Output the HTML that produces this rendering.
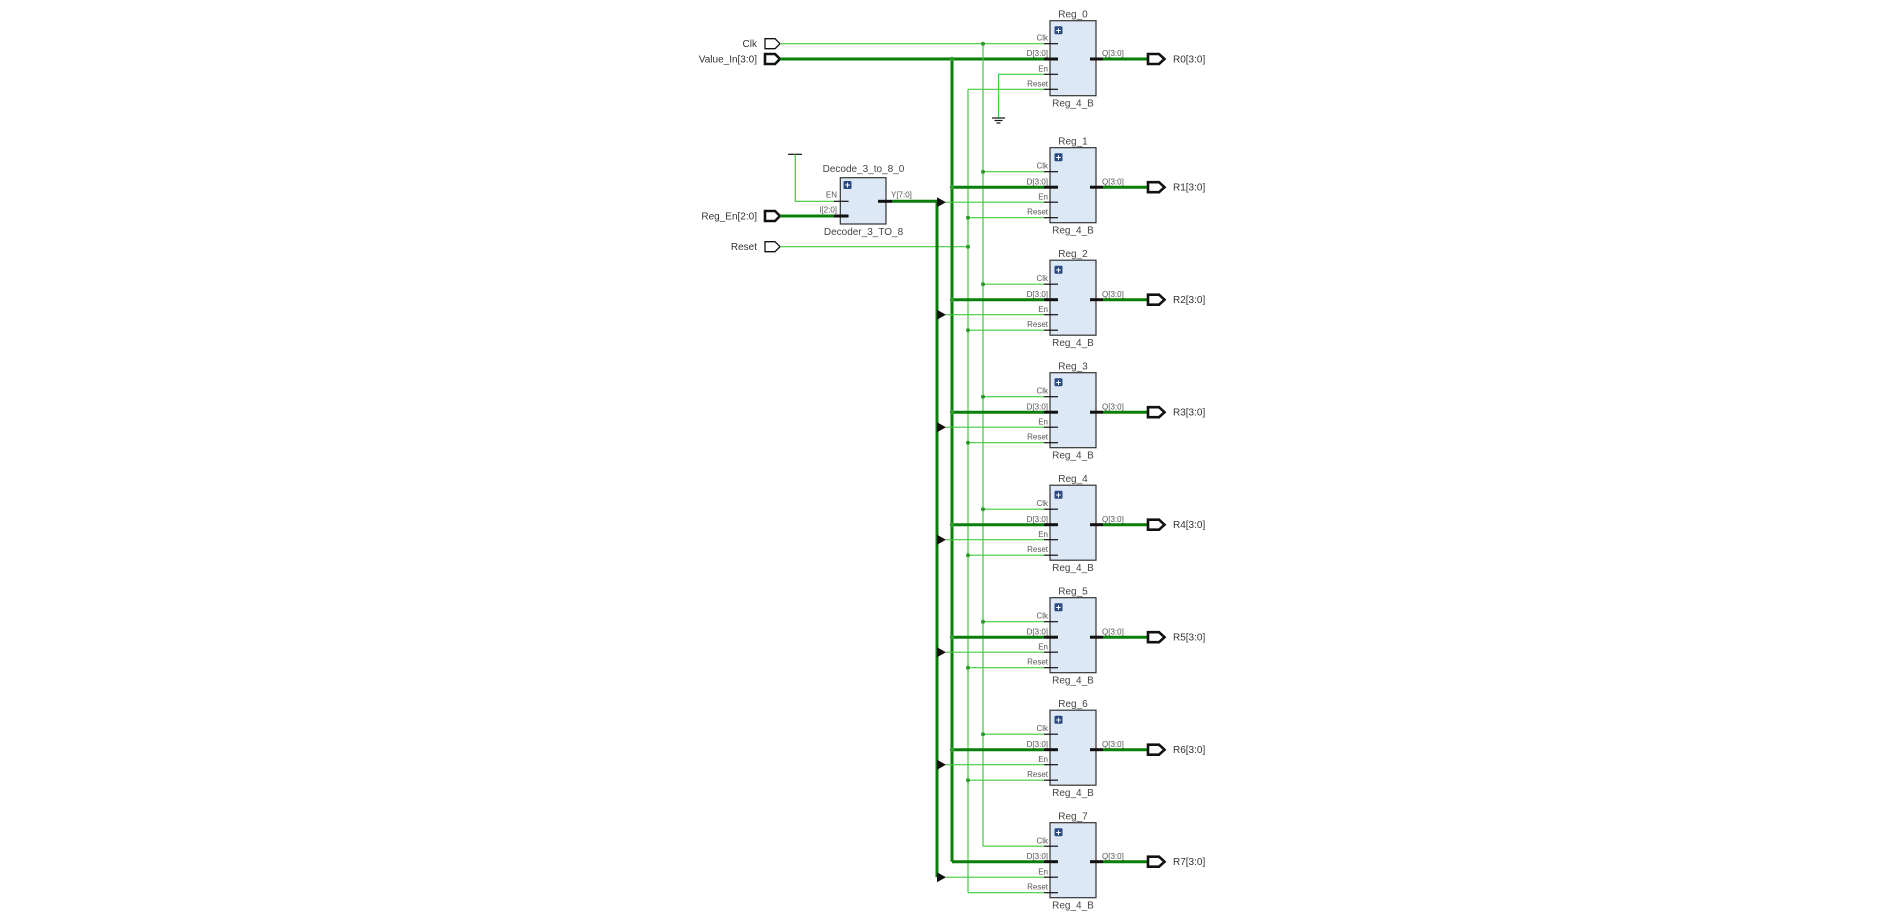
<!DOCTYPE html>
<html><head><meta charset="utf-8"><style>
html,body{margin:0;padding:0;background:#fff;}
svg{display:block;font-family:"Liberation Sans",sans-serif;}
.g{stroke:#3fcc3f;stroke-width:1.2;fill:none}
.b{stroke:#0a7d0a;stroke-width:3;fill:none}
.k{stroke:#111;stroke-width:1.2}
.kb{stroke:#111;stroke-width:3}
.box{fill:#dde8f7;stroke:#333;stroke-width:1.2}
.pl{font-size:8px;fill:#555;text-anchor:end}
.ql{font-size:8px;fill:#555}
.t{font-size:10px;fill:#444;text-anchor:middle}
.pt{font-size:10px;fill:#333}
.ptr{font-size:10px;fill:#333;text-anchor:end}
.port{fill:#fff;stroke:#111;stroke-width:1.3}
.portb{fill:#fff;stroke:#111;stroke-width:2.6}
.dot{fill:#2a9c2a}
.plus{fill:#2b4a80}
</style></head><body>
<svg width="1894" height="919" viewBox="0 0 1894 919" xmlns="http://www.w3.org/2000/svg">

<!-- input ports -->
<text class="ptr" x="757" y="47">Clk</text>
<polygon class="port" points="765,38.7 775,38.7 780,43.7 775,48.7 765,48.7"/>
<text class="ptr" x="757" y="62.5">Value_In[3:0]</text>
<polygon class="portb" points="765,54 775,54 780,59 775,64 765,64"/>
<text class="ptr" x="757" y="219.5">Reg_En[2:0]</text>
<polygon class="portb" points="765,211 775,211 780,216 775,221 765,221"/>
<text class="ptr" x="757" y="250">Reset</text>
<polygon class="port" points="765,241.7 775,241.7 780,246.7 775,251.7 765,251.7"/>

<!-- global wires -->
<line class="g" x1="780" y1="43.7" x2="1044" y2="43.7"/>
<line class="b" x1="780" y1="59" x2="1044" y2="59"/>
<line class="g" x1="780" y1="246.7" x2="968" y2="246.7"/>
<line class="b" x1="780" y1="216" x2="834" y2="216"/>
<line class="b" x1="892" y1="201.3" x2="937" y2="201.3"/>
<line class="g" x1="983" y1="43.7" x2="983" y2="846.2"/>
<line class="b" x1="952" y1="59" x2="952" y2="861.7"/>
<line class="g" x1="968" y1="89.3" x2="968" y2="892.7"/>
<line class="b" x1="937" y1="201.3" x2="937" y2="877.2"/>
<circle class="dot" cx="968" cy="246.7" r="2"/>

<!-- decoder EN tie -->
<line class="k" x1="788" y1="154.3" x2="802" y2="154.3"/>
<polyline class="g" points="795.3,154.3 795.3,201.3 834,201.3"/>

<!-- decoder -->
<text class="t" x="863.5" y="172">Decode_3_to_8_0</text>
<text class="t" x="863.5" y="235">Decoder_3_TO_8</text>
<rect class="box" x="840.3" y="177.7" width="45.7" height="46.3"/>
<rect class="plus" x="843.5" y="181" width="8" height="8" rx="1"/>
<text x="847.5" y="188.2" font-size="9" fill="#fff" text-anchor="middle" font-weight="bold">+</text>
<line class="k" x1="834" y1="201.3" x2="848.6" y2="201.3"/>
<line class="kb" x1="834" y1="216" x2="848.6" y2="216"/>
<line class="kb" x1="878" y1="201.3" x2="892" y2="201.3"/>
<text class="pl" x="837" y="197.5">EN</text>
<text class="pl" x="837" y="212.5">I[2:0]</text>
<text class="ql" x="891" y="197.5">Y[7:0]</text>

<!-- Reg_0 special -->
<polyline class="g" points="1044,74.3 998.5,74.3 998.5,118"/>
<line class="k" x1="992" y1="118" x2="1005" y2="118"/>
<line class="k" x1="994.5" y1="120.5" x2="1002.5" y2="120.5"/>
<line class="k" x1="996.5" y1="123" x2="1000.5" y2="123"/>
<line class="g" x1="968" y1="89.3" x2="1044" y2="89.3"/>
<circle class="dot" cx="983" cy="43.7" r="2"/>
<circle class="dot" cx="952" cy="59" r="2.2"/>

<!-- Reg_0 -->
<g transform="translate(0,20.7)">
<text class="t" x="1073" y="-3">Reg_0</text><text class="t" x="1073" y="86">Reg_4_B</text>
<rect class="box" x="1050" y="0" width="46" height="75"/>
<rect class="plus" x="1054.5" y="5.5" width="8" height="8" rx="1"/><text x="1058.5" y="12.7" font-size="9" fill="#fff" text-anchor="middle" font-weight="bold">+</text>
<line class="k" x1="1044" y1="23" x2="1058" y2="23"/><line class="kb" x1="1044" y1="38.3" x2="1058" y2="38.3"/><line class="k" x1="1044" y1="53.6" x2="1058" y2="53.6"/><line class="k" x1="1044" y1="68.6" x2="1058" y2="68.6"/>
<text class="pl" x="1048" y="20">Clk</text><text class="pl" x="1048" y="35.5">D[3:0]</text><text class="pl" x="1048" y="51">En</text><text class="pl" x="1048" y="66">Reset</text>
<line class="kb" x1="1090" y1="38.3" x2="1103" y2="38.3"/><text class="ql" x="1102" y="35.5">Q[3:0]</text>
<line class="b" x1="1103" y1="38.3" x2="1148" y2="38.3"/>
<polygon class="portb" points="1148,33.3 1159,33.3 1164.5,38.3 1159,43.3 1148,43.3"/>
<text class="pt" x="1173" y="42">R0[3:0]</text>
</g>

<g transform="translate(0,147.7)">
<text class="t" x="1073" y="-3">Reg_1</text><text class="t" x="1073" y="86">Reg_4_B</text>
<rect class="box" x="1050" y="0" width="46" height="75"/>
<rect class="plus" x="1054.5" y="5.5" width="8" height="8" rx="1"/><text x="1058.5" y="12.7" font-size="9" fill="#fff" text-anchor="middle" font-weight="bold">+</text>
<line class="g" x1="983" y1="24" x2="1044" y2="24"/><circle class="dot" cx="983" cy="24" r="2"/>
<line class="b" x1="952" y1="39.5" x2="1044" y2="39.5"/><circle class="dot" cx="952" cy="39.5" r="2.2"/>
<line class="g" x1="946" y1="54.5" x2="1044" y2="54.5"/><polygon fill="#111" points="937,49.5 946,54.5 937,59.5"/>
<line class="g" x1="968" y1="70" x2="1044" y2="70"/><circle class="dot" cx="968" cy="70" r="2"/>
<line class="k" x1="1044" y1="24" x2="1058" y2="24"/><line class="kb" x1="1044" y1="39.5" x2="1058" y2="39.5"/><line class="k" x1="1044" y1="54.5" x2="1058" y2="54.5"/><line class="k" x1="1044" y1="70" x2="1058" y2="70"/>
<text class="pl" x="1048" y="21">Clk</text><text class="pl" x="1048" y="37">D[3:0]</text><text class="pl" x="1048" y="52">En</text><text class="pl" x="1048" y="67">Reset</text>
<line class="kb" x1="1090" y1="39.5" x2="1103" y2="39.5"/><text class="ql" x="1102" y="37">Q[3:0]</text>
<line class="b" x1="1103" y1="39.5" x2="1148" y2="39.5"/>
<polygon class="portb" points="1148,34.5 1159,34.5 1164.5,39.5 1159,44.5 1148,44.5"/>
<text class="pt" x="1173" y="43">R1[3:0]</text>
</g>

<g transform="translate(0,260.2)">
<text class="t" x="1073" y="-3">Reg_2</text><text class="t" x="1073" y="86">Reg_4_B</text>
<rect class="box" x="1050" y="0" width="46" height="75"/>
<rect class="plus" x="1054.5" y="5.5" width="8" height="8" rx="1"/><text x="1058.5" y="12.7" font-size="9" fill="#fff" text-anchor="middle" font-weight="bold">+</text>
<line class="g" x1="983" y1="24" x2="1044" y2="24"/><circle class="dot" cx="983" cy="24" r="2"/>
<line class="b" x1="952" y1="39.5" x2="1044" y2="39.5"/><circle class="dot" cx="952" cy="39.5" r="2.2"/>
<line class="g" x1="946" y1="54.5" x2="1044" y2="54.5"/><polygon fill="#111" points="937,49.5 946,54.5 937,59.5"/>
<line class="g" x1="968" y1="70" x2="1044" y2="70"/><circle class="dot" cx="968" cy="70" r="2"/>
<line class="k" x1="1044" y1="24" x2="1058" y2="24"/><line class="kb" x1="1044" y1="39.5" x2="1058" y2="39.5"/><line class="k" x1="1044" y1="54.5" x2="1058" y2="54.5"/><line class="k" x1="1044" y1="70" x2="1058" y2="70"/>
<text class="pl" x="1048" y="21">Clk</text><text class="pl" x="1048" y="37">D[3:0]</text><text class="pl" x="1048" y="52">En</text><text class="pl" x="1048" y="67">Reset</text>
<line class="kb" x1="1090" y1="39.5" x2="1103" y2="39.5"/><text class="ql" x="1102" y="37">Q[3:0]</text>
<line class="b" x1="1103" y1="39.5" x2="1148" y2="39.5"/>
<polygon class="portb" points="1148,34.5 1159,34.5 1164.5,39.5 1159,44.5 1148,44.5"/>
<text class="pt" x="1173" y="43">R2[3:0]</text>
</g>

<g transform="translate(0,372.7)">
<text class="t" x="1073" y="-3">Reg_3</text><text class="t" x="1073" y="86">Reg_4_B</text>
<rect class="box" x="1050" y="0" width="46" height="75"/>
<rect class="plus" x="1054.5" y="5.5" width="8" height="8" rx="1"/><text x="1058.5" y="12.7" font-size="9" fill="#fff" text-anchor="middle" font-weight="bold">+</text>
<line class="g" x1="983" y1="24" x2="1044" y2="24"/><circle class="dot" cx="983" cy="24" r="2"/>
<line class="b" x1="952" y1="39.5" x2="1044" y2="39.5"/><circle class="dot" cx="952" cy="39.5" r="2.2"/>
<line class="g" x1="946" y1="54.5" x2="1044" y2="54.5"/><polygon fill="#111" points="937,49.5 946,54.5 937,59.5"/>
<line class="g" x1="968" y1="70" x2="1044" y2="70"/><circle class="dot" cx="968" cy="70" r="2"/>
<line class="k" x1="1044" y1="24" x2="1058" y2="24"/><line class="kb" x1="1044" y1="39.5" x2="1058" y2="39.5"/><line class="k" x1="1044" y1="54.5" x2="1058" y2="54.5"/><line class="k" x1="1044" y1="70" x2="1058" y2="70"/>
<text class="pl" x="1048" y="21">Clk</text><text class="pl" x="1048" y="37">D[3:0]</text><text class="pl" x="1048" y="52">En</text><text class="pl" x="1048" y="67">Reset</text>
<line class="kb" x1="1090" y1="39.5" x2="1103" y2="39.5"/><text class="ql" x="1102" y="37">Q[3:0]</text>
<line class="b" x1="1103" y1="39.5" x2="1148" y2="39.5"/>
<polygon class="portb" points="1148,34.5 1159,34.5 1164.5,39.5 1159,44.5 1148,44.5"/>
<text class="pt" x="1173" y="43">R3[3:0]</text>
</g>

<g transform="translate(0,485.2)">
<text class="t" x="1073" y="-3">Reg_4</text><text class="t" x="1073" y="86">Reg_4_B</text>
<rect class="box" x="1050" y="0" width="46" height="75"/>
<rect class="plus" x="1054.5" y="5.5" width="8" height="8" rx="1"/><text x="1058.5" y="12.7" font-size="9" fill="#fff" text-anchor="middle" font-weight="bold">+</text>
<line class="g" x1="983" y1="24" x2="1044" y2="24"/><circle class="dot" cx="983" cy="24" r="2"/>
<line class="b" x1="952" y1="39.5" x2="1044" y2="39.5"/><circle class="dot" cx="952" cy="39.5" r="2.2"/>
<line class="g" x1="946" y1="54.5" x2="1044" y2="54.5"/><polygon fill="#111" points="937,49.5 946,54.5 937,59.5"/>
<line class="g" x1="968" y1="70" x2="1044" y2="70"/><circle class="dot" cx="968" cy="70" r="2"/>
<line class="k" x1="1044" y1="24" x2="1058" y2="24"/><line class="kb" x1="1044" y1="39.5" x2="1058" y2="39.5"/><line class="k" x1="1044" y1="54.5" x2="1058" y2="54.5"/><line class="k" x1="1044" y1="70" x2="1058" y2="70"/>
<text class="pl" x="1048" y="21">Clk</text><text class="pl" x="1048" y="37">D[3:0]</text><text class="pl" x="1048" y="52">En</text><text class="pl" x="1048" y="67">Reset</text>
<line class="kb" x1="1090" y1="39.5" x2="1103" y2="39.5"/><text class="ql" x="1102" y="37">Q[3:0]</text>
<line class="b" x1="1103" y1="39.5" x2="1148" y2="39.5"/>
<polygon class="portb" points="1148,34.5 1159,34.5 1164.5,39.5 1159,44.5 1148,44.5"/>
<text class="pt" x="1173" y="43">R4[3:0]</text>
</g>

<g transform="translate(0,597.7)">
<text class="t" x="1073" y="-3">Reg_5</text><text class="t" x="1073" y="86">Reg_4_B</text>
<rect class="box" x="1050" y="0" width="46" height="75"/>
<rect class="plus" x="1054.5" y="5.5" width="8" height="8" rx="1"/><text x="1058.5" y="12.7" font-size="9" fill="#fff" text-anchor="middle" font-weight="bold">+</text>
<line class="g" x1="983" y1="24" x2="1044" y2="24"/><circle class="dot" cx="983" cy="24" r="2"/>
<line class="b" x1="952" y1="39.5" x2="1044" y2="39.5"/><circle class="dot" cx="952" cy="39.5" r="2.2"/>
<line class="g" x1="946" y1="54.5" x2="1044" y2="54.5"/><polygon fill="#111" points="937,49.5 946,54.5 937,59.5"/>
<line class="g" x1="968" y1="70" x2="1044" y2="70"/><circle class="dot" cx="968" cy="70" r="2"/>
<line class="k" x1="1044" y1="24" x2="1058" y2="24"/><line class="kb" x1="1044" y1="39.5" x2="1058" y2="39.5"/><line class="k" x1="1044" y1="54.5" x2="1058" y2="54.5"/><line class="k" x1="1044" y1="70" x2="1058" y2="70"/>
<text class="pl" x="1048" y="21">Clk</text><text class="pl" x="1048" y="37">D[3:0]</text><text class="pl" x="1048" y="52">En</text><text class="pl" x="1048" y="67">Reset</text>
<line class="kb" x1="1090" y1="39.5" x2="1103" y2="39.5"/><text class="ql" x="1102" y="37">Q[3:0]</text>
<line class="b" x1="1103" y1="39.5" x2="1148" y2="39.5"/>
<polygon class="portb" points="1148,34.5 1159,34.5 1164.5,39.5 1159,44.5 1148,44.5"/>
<text class="pt" x="1173" y="43">R5[3:0]</text>
</g>

<g transform="translate(0,710.2)">
<text class="t" x="1073" y="-3">Reg_6</text><text class="t" x="1073" y="86">Reg_4_B</text>
<rect class="box" x="1050" y="0" width="46" height="75"/>
<rect class="plus" x="1054.5" y="5.5" width="8" height="8" rx="1"/><text x="1058.5" y="12.7" font-size="9" fill="#fff" text-anchor="middle" font-weight="bold">+</text>
<line class="g" x1="983" y1="24" x2="1044" y2="24"/><circle class="dot" cx="983" cy="24" r="2"/>
<line class="b" x1="952" y1="39.5" x2="1044" y2="39.5"/><circle class="dot" cx="952" cy="39.5" r="2.2"/>
<line class="g" x1="946" y1="54.5" x2="1044" y2="54.5"/><polygon fill="#111" points="937,49.5 946,54.5 937,59.5"/>
<line class="g" x1="968" y1="70" x2="1044" y2="70"/><circle class="dot" cx="968" cy="70" r="2"/>
<line class="k" x1="1044" y1="24" x2="1058" y2="24"/><line class="kb" x1="1044" y1="39.5" x2="1058" y2="39.5"/><line class="k" x1="1044" y1="54.5" x2="1058" y2="54.5"/><line class="k" x1="1044" y1="70" x2="1058" y2="70"/>
<text class="pl" x="1048" y="21">Clk</text><text class="pl" x="1048" y="37">D[3:0]</text><text class="pl" x="1048" y="52">En</text><text class="pl" x="1048" y="67">Reset</text>
<line class="kb" x1="1090" y1="39.5" x2="1103" y2="39.5"/><text class="ql" x="1102" y="37">Q[3:0]</text>
<line class="b" x1="1103" y1="39.5" x2="1148" y2="39.5"/>
<polygon class="portb" points="1148,34.5 1159,34.5 1164.5,39.5 1159,44.5 1148,44.5"/>
<text class="pt" x="1173" y="43">R6[3:0]</text>
</g>

<g transform="translate(0,822.7)">
<text class="t" x="1073" y="-3">Reg_7</text><text class="t" x="1073" y="86">Reg_4_B</text>
<rect class="box" x="1050" y="0" width="46" height="75"/>
<rect class="plus" x="1054.5" y="5.5" width="8" height="8" rx="1"/><text x="1058.5" y="12.7" font-size="9" fill="#fff" text-anchor="middle" font-weight="bold">+</text>
<line class="g" x1="983" y1="23.5" x2="1044" y2="23.5"/>
<line class="b" x1="952" y1="39" x2="1044" y2="39"/>
<line class="g" x1="946" y1="54.5" x2="1044" y2="54.5"/><polygon fill="#111" points="937,49.5 946,54.5 937,59.5"/>
<line class="g" x1="968" y1="70" x2="1044" y2="70"/>
<line class="k" x1="1044" y1="23.5" x2="1058" y2="23.5"/><line class="kb" x1="1044" y1="39" x2="1058" y2="39"/><line class="k" x1="1044" y1="54.5" x2="1058" y2="54.5"/><line class="k" x1="1044" y1="70" x2="1058" y2="70"/>
<text class="pl" x="1048" y="21">Clk</text><text class="pl" x="1048" y="36.5">D[3:0]</text><text class="pl" x="1048" y="52">En</text><text class="pl" x="1048" y="67">Reset</text>
<line class="kb" x1="1090" y1="39" x2="1103" y2="39"/><text class="ql" x="1102" y="36.5">Q[3:0]</text>
<line class="b" x1="1103" y1="39" x2="1148" y2="39"/>
<polygon class="portb" points="1148,34 1159,34 1164.5,39 1159,44 1148,44"/>
<text class="pt" x="1173" y="42.5">R7[3:0]</text>
</g>
</svg>
</body></html>
